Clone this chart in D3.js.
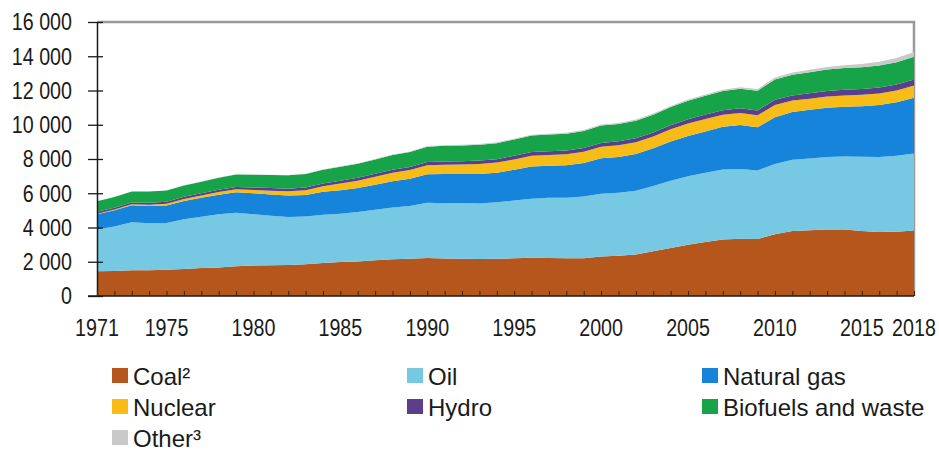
<!DOCTYPE html>
<html><head><meta charset="utf-8">
<script src="https://cdn.jsdelivr.net/npm/d3@7"></script>
<style>
html,body{margin:0;padding:0;background:#fff;}
svg{display:block;}
.ax{font-family:"Liberation Sans",Arial,sans-serif;font-size:24px;fill:#1a1a1a;}
.lg{font-family:"Liberation Sans",Arial,sans-serif;font-size:24px;fill:#1a1a1a;}
</style></head>
<body><svg id="c" width="939" height="453"></svg>
<script>
const years = d3.range(1971, 2019);
const seriesNames = ["Coal²","Oil","Natural gas","Nuclear","Hydro","Biofuels and waste","Other³"];
const seriesColors = ["#b5571c","#77c8e2","#1784dc","#f7bd16","#5b3f8c","#17a448","#c9c9c9"];
const coal = [1440,1460,1500,1500,1530,1580,1630,1670,1740,1780,1790,1810,1850,1920,1990,2020,2090,2140,2170,2220,2190,2170,2160,2170,2200,2230,2220,2200,2210,2310,2350,2420,2620,2800,2990,3150,3300,3340,3330,3600,3800,3840,3880,3880,3800,3730,3750,3820];
const oil = [2440,2600,2810,2750,2730,2900,3000,3100,3120,2990,2890,2810,2790,2820,2810,2890,2940,3030,3090,3230,3230,3260,3240,3300,3370,3450,3520,3540,3600,3660,3680,3720,3800,3930,4000,4040,4080,4070,4000,4110,4150,4190,4230,4260,4330,4390,4440,4500];
const gas = [900,950,990,1010,1020,1070,1100,1140,1200,1230,1250,1250,1260,1350,1380,1400,1470,1530,1590,1660,1700,1700,1730,1730,1800,1880,1870,1900,1950,2070,2090,2150,2210,2290,2360,2420,2500,2570,2520,2730,2790,2850,2890,2910,2950,3030,3120,3260];
const nuclear = [29,38,53,70,100,114,140,165,170,186,220,240,270,320,390,420,460,500,510,526,550,555,580,590,608,630,625,635,660,676,690,695,687,714,722,728,709,712,703,719,674,642,646,661,670,680,688,707];
const hydro = [104,108,111,120,123,125,128,136,141,148,150,154,160,163,167,170,172,177,176,184,189,190,199,202,212,215,218,220,222,225,222,225,227,239,250,257,261,273,276,296,300,315,326,334,335,348,350,362];
const biofuels = [616,625,635,645,655,665,680,700,720,750,765,780,790,800,810,825,840,855,870,900,910,915,925,935,950,965,975,985,995,1010,1015,1030,1045,1060,1080,1100,1120,1140,1160,1190,1210,1230,1250,1265,1270,1285,1300,1320];
const other = [6,7,7,8,9,9,10,11,11,12,14,16,18,21,24,26,28,30,33,36,38,40,42,44,47,49,51,53,56,60,60,62,64,67,70,74,80,88,97,110,125,140,155,170,190,215,245,280];
const yTicks = [0,2000,4000,6000,8000,10000,12000,14000,16000];
const xLabelYears = [1971,1975,1980,1985,1990,1995,2000,2005,2010,2015,2018];

const allSeries = [coal, oil, gas, nuclear, hydro, biofuels, other];
const table = years.map((y,i)=>{const o={year:y}; seriesNames.forEach((n,k)=>o[n]=allSeries[k][i]); return o;});

const svg = d3.select("#c");
const L=97, R=914, T=22, B=296;
const NARROW = 0.82;
const x = d3.scaleLinear().domain([1971,2018]).range([L,R]);
const y = d3.scaleLinear().domain([0,16000]).range([B,T]);

const layers = d3.stack().keys(seriesNames)(table);
const area = d3.area().x(d=>x(d.data.year)).y0(d=>y(d[0])).y1(d=>y(d[1]));

// frame top/right
svg.append("path").attr("d",`M${L},${T}H${R}V${B}`).attr("fill","none").attr("stroke","#9a9a9a").attr("stroke-width",2.5);

svg.append("g").selectAll("path").data(layers).join("path")
  .attr("d",area).attr("fill",(d,i)=>seriesColors[i]);

// y axis (line + crossing ticks)
const yAxis = d3.axisLeft(y).tickValues(yTicks).tickSize(0).tickFormat("");
const gy = svg.append("g").attr("transform",`translate(${L},0)`).call(yAxis);
gy.select(".domain").attr("stroke","#1a1a1a").attr("stroke-width",1.5);
gy.selectAll(".tick line").attr("stroke","#1a1a1a").attr("stroke-width",1.3).attr("x1",6).attr("x2",-9);
svg.append("g").selectAll("text").data(yTicks).join("text")
  .attr("class","ax").attr("text-anchor","end").attr("dy","0.35em")
  .attr("transform",d=>`translate(72,${y(d)}) scale(${NARROW},1)`)
  .text(d=>d3.format(",")(d).replace(/,/g," "));

// x axis
const xAxis = d3.axisBottom(x).tickValues(years).tickSize(-5).tickPadding(0).tickFormat("");
const gx = svg.append("g").attr("transform",`translate(0,${B})`).call(xAxis);
gx.select(".domain").attr("d",`M${L-9},0H${R}`).attr("stroke","#1a1a1a").attr("stroke-width",1.5);
gx.selectAll(".tick line").attr("stroke","#3a2410").attr("stroke-width",1);
svg.append("g").selectAll("text").data(xLabelYears).join("text")
  .attr("class","ax").attr("text-anchor","middle")
  .attr("transform",d=>`translate(${x(d)},336) scale(${NARROW},1)`).text(d=>d);

// legend
const colX = [112,407,702];
const rowY = [385,416,447];
const lg = svg.append("g").selectAll("g").data(seriesNames).join("g")
  .attr("transform",(d,i)=>`translate(${colX[i%3]},${rowY[Math.floor(i/3)]})`);
lg.append("rect").attr("x",0).attr("y",-17).attr("width",16).attr("height",15).attr("fill",(d,i)=>seriesColors[i]);
lg.append("text").attr("class","lg").attr("x",21).attr("y",0).text(d=>d);
</script></body></html>
